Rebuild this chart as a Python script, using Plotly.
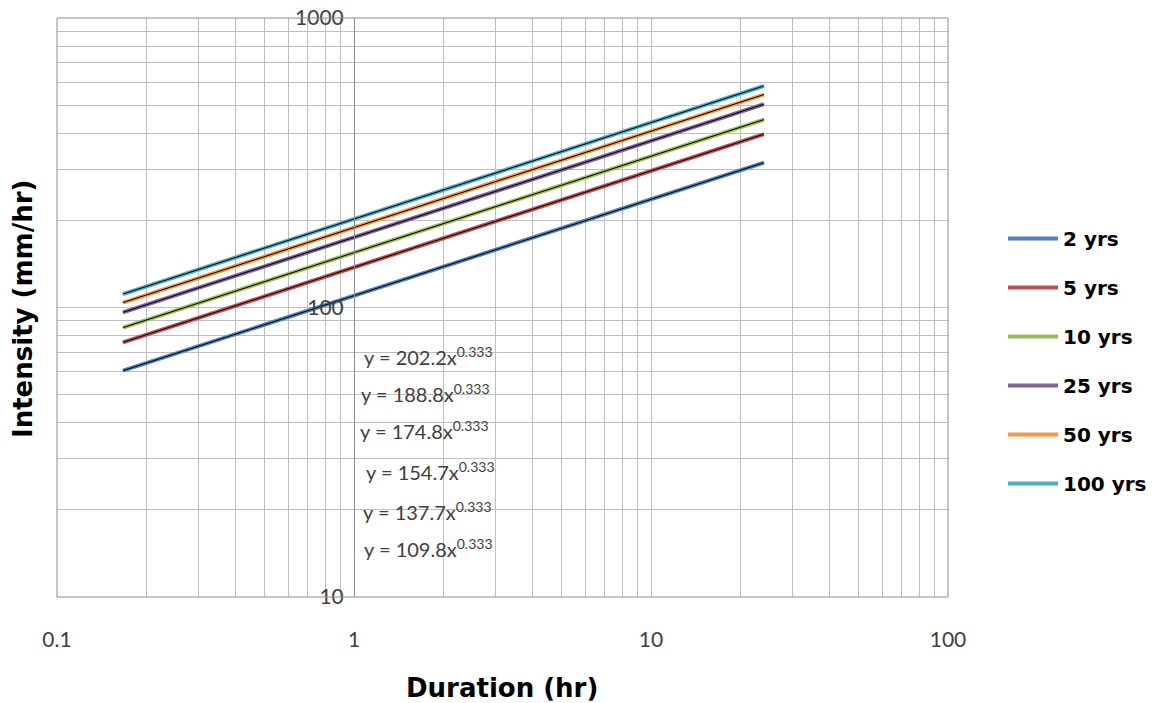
import plotly.graph_objects as go

# Data
durations = [0.1667, 0.3333, 0.5, 1, 2, 3, 6, 12, 24]
series_names = ["2 yrs", "5 yrs", "10 yrs", "25 yrs", "50 yrs", "100 yrs"]
i_2 = [60.5, 76.2, 87.2, 109.8, 138.3, 158.3, 199.4, 251.2, 316.4]
i_5 = [75.8, 95.5, 109.3, 137.7, 173.4, 198.5, 250.1, 315.0, 396.8]
i_10 = [85.2, 107.3, 122.8, 154.7, 194.9, 223.0, 281.0, 353.9, 445.8]
i_25 = [96.2, 121.2, 138.8, 174.8, 220.2, 252.0, 317.5, 399.9, 503.7]
i_50 = [104.0, 131.0, 149.9, 188.8, 237.8, 272.2, 342.9, 431.9, 544.0]
i_100 = [111.3, 140.2, 160.5, 202.2, 254.7, 291.5, 367.2, 462.5, 582.6]
equations = ["y = 202.2x<sup>0.333</sup>", "y = 188.8x<sup>0.333</sup>", "y = 174.8x<sup>0.333</sup>",
             "y = 154.7x<sup>0.333</sup>", "y = 137.7x<sup>0.333</sup>", "y = 109.8x<sup>0.333</sup>"]

x_tickvals = [0.1, 0.2, 0.3, 0.4, 0.5, 0.6, 0.7, 0.8, 0.9,
              1, 2, 3, 4, 5, 6, 7, 8, 9,
              10, 20, 30, 40, 50, 60, 70, 80, 90, 100]
x_ticktext = ["0.1"] + [""] * 8 + ["1"] + [""] * 8 + ["10"] + [""] * 8 + ["100"]
y_tickvals = [10, 20, 30, 40, 50, 60, 70, 80, 90,
              100, 200, 300, 400, 500, 600, 700, 800, 900, 1000]
y_ticktext = ["10"] + [""] * 8 + ["100"] + [""] * 8 + ["1000"]

colors = ["#4F81BD", "#C0504D", "#9BBB59", "#8064A2", "#F79646", "#4BACC6"]
all_series = [i_2, i_5, i_10, i_25, i_50, i_100]

W, H = 1153, 703
L, R, T, B = 57, 948, 18, 597
PW, PH = R - L, B - T

fig = go.Figure()
for k, (name, ys) in enumerate(zip(series_names, all_series)):
    fig.add_trace(go.Scatter(x=durations, y=ys, mode="lines", name=name,
                             line=dict(color=colors[k], width=4),
                             legendgroup=name))
for k, ys in enumerate(all_series):
    fig.add_trace(go.Scatter(x=durations, y=ys, mode="lines", showlegend=False,
                             line=dict(color="black", width=1), hoverinfo="skip"))

grid_col = "#BEBEBE"
tick_font = dict(size=21, color="#404040", family="Lato, sans-serif")
title_font = dict(size=26, color="black", family="DejaVu Sans", weight=700)
fig.update_layout(
    width=W, height=H,
    margin=dict(l=L, r=W - R, t=T, b=H - B, pad=0, autoexpand=False),
    plot_bgcolor="white", paper_bgcolor="white",
    font=dict(family="Lato, Liberation Sans, sans-serif", color="#404040"),
    xaxis=dict(type="log", range=[-1, 2], tickvals=x_tickvals, ticktext=x_ticktext,
               showgrid=True, gridcolor=grid_col, gridwidth=1, zeroline=False,
               showline=False, ticks="", ticklabelstandoff=28, automargin=False,
               tickfont=tick_font),
    yaxis=dict(type="log", range=[1, 3], tickvals=y_tickvals, ticktext=y_ticktext,
               anchor="free", position=1 / 3, automargin=False,
               showgrid=True, gridcolor=grid_col, gridwidth=1, zeroline=False,
               showline=True, linecolor="#8C8C8C", linewidth=1, ticks="",
               ticklabelstandoff=6, tickfont=tick_font),
    legend=dict(x=(1003 - L) / PW, y=(B - 219) / PH, xanchor="left", yanchor="top",
                font=dict(size=20, color="black", family="DejaVu Sans", weight=700),
                tracegroupgap=20, itemwidth=50, bgcolor="rgba(0,0,0,0)"),
    showlegend=True,
)

# plot area border
fig.add_shape(type="rect", xref="paper", yref="paper", x0=0, x1=1, y0=0, y1=1,
              line=dict(color="#8C8C8C", width=1), layer="above")

# axis titles
fig.add_annotation(text="Intensity (mm/hr)", xref="paper", yref="paper",
                   x=(23 - L) / PW, y=(B - 309) / PH, textangle=-90,
                   showarrow=False, xanchor="center", yanchor="middle",
                   font=title_font)
fig.add_annotation(text="Duration (hr)", xref="paper", yref="paper",
                   x=(502 - L) / PW, y=(B - 688) / PH,
                   showarrow=False, xanchor="center", yanchor="middle",
                   font=title_font)

# trendline equations
eq_y = [356, 393, 430, 471, 511, 548]
eq_x = [362, 359, 358, 364, 361, 362]
for t, ex, ey in zip(equations, eq_x, eq_y):
    fig.add_annotation(text=t, xref="paper", yref="paper",
                       x=(ex - L) / PW, y=(B - ey) / PH,
                       xanchor="left", yanchor="middle", showarrow=False,
                       font=dict(size=20, color="#404040", family="Lato, sans-serif"))

fig.write_html("out.html")
